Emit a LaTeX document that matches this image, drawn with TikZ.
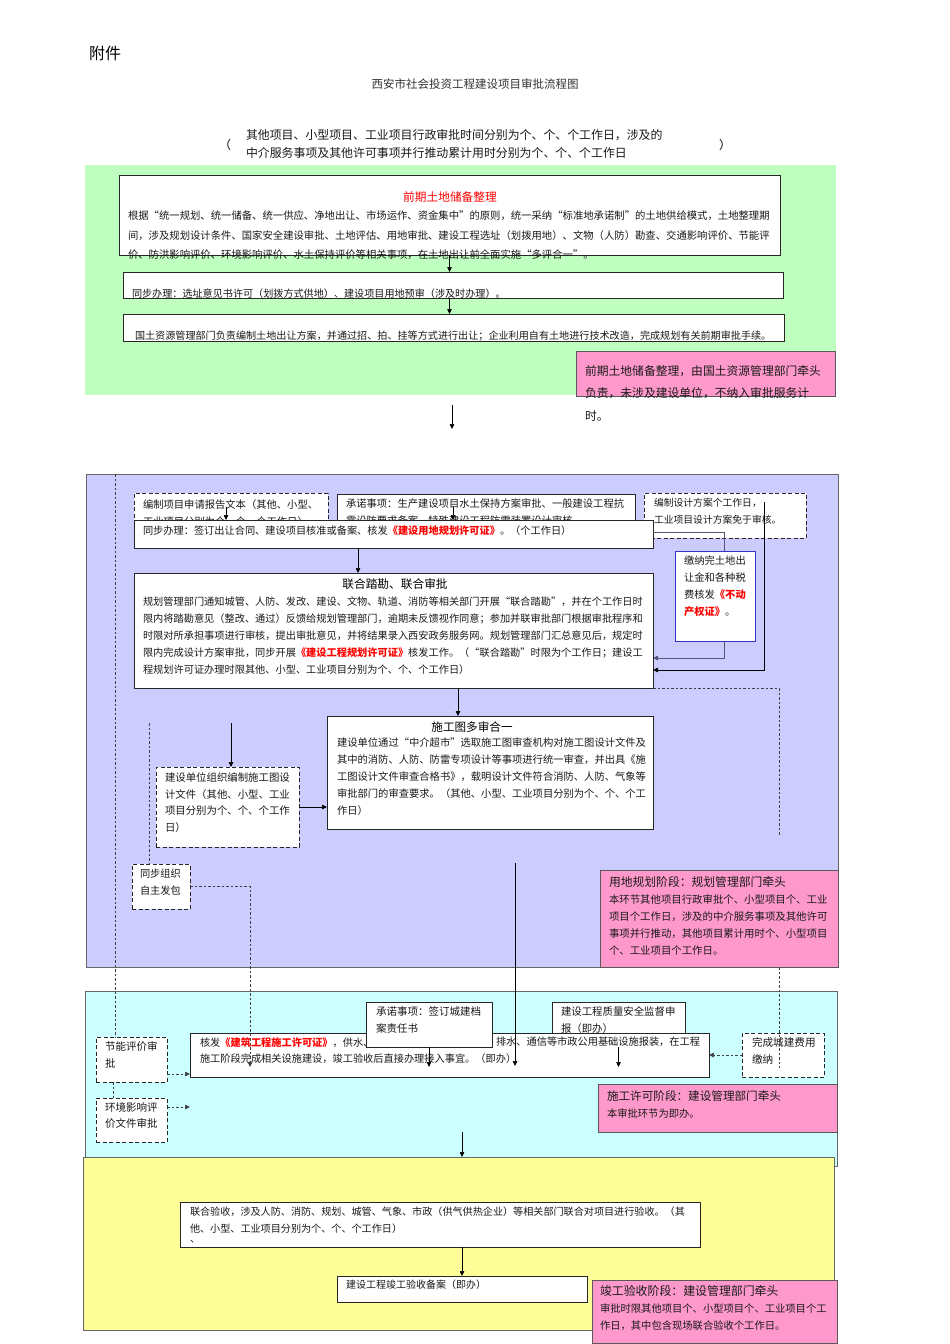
\documentclass[tikz,border=0pt]{standalone}
\usepackage{fontspec}
\setmainfont{Noto Sans CJK SC}
\usetikzlibrary{arrows.meta,calc}
\definecolor{gbg}{HTML}{BFFFBF}
\definecolor{pbg}{HTML}{CCCCFF}
\definecolor{cbg}{HTML}{CCFFFF}
\definecolor{ybg}{HTML}{FFFF99}
\definecolor{pk}{HTML}{FF99CC}
\definecolor{cln}{HTML}{555577}
\definecolor{ebd}{HTML}{3333CC}
\newcommand{\fz}[2]{\fontsize{#1}{#2}\selectfont}
\newcommand{\rb}[1]{{\color{red}\bfseries #1}}
\begin{document}
\begin{tikzpicture}[x=1pt,y=-1pt,
  region/.style={anchor=north west, inner sep=0, outer sep=0, draw=gray!80!black, line width=0.7pt},
  bx/.style={anchor=north west, inner sep=0, outer sep=0, draw=black!85, fill=white, line width=0.8pt},
  dbx/.style={bx, dash pattern=on 4pt off 2.5pt},
  pbx/.style={bx, fill=pk, draw=black!65},
  tx/.style={anchor=north west, inner sep=0, outer sep=0, align=left, text=black!90},
  arr/.style={-{Triangle[length=5pt,width=4.5pt]}, line width=0.7pt, black},
  dl/.style={line width=0.7pt, dash pattern=on 2.5pt off 2pt, black!75},
  darr/.style={dl, -{Triangle[length=5pt,width=4.5pt]}},
]
\useasboundingbox[fill=white] (0,0) rectangle (950,1344);

% ---------- header ----------
\node[anchor=west, inner sep=0, font=\fz{16}{16}] (fj) at (89,53) {附件};
\node[font=\fz{11.5}{12}, text=black!80] (title) at (475,84) {西安市社会投资工程建设项目审批流程图};
\node[font=\fz{12}{12}] (lp) at (225,145) {（};
\node[font=\fz{12}{12}] (rp) at (725,145) {）};
\node[tx, font=\fz{11.9}{18}] (sub) at (246,129.4) {其他项目、小型项目、工业项目行政审批时间分别为个、个、个工作日，涉及的\\中介服务事项及其他许可事项并行推动累计用时分别为个、个、个工作日};

% ---------- regions ----------
\node[region, draw=none, fill=gbg, minimum width=751pt, minimum height=230pt] (green) at (85,165) {};
\node[region, fill=pbg, minimum width=752pt, minimum height=493pt] (purple) at (86,474) {};
\node[region, fill=cbg, minimum width=752pt, minimum height=175pt] (cyan) at (85,991) {};
\node[region, fill=ybg, minimum width=751pt, minimum height=173pt] (yellow) at (83,1157) {};

% ---------- green section ----------
\node[bx, minimum width=661pt, minimum height=80pt] (g1) at (119,175) {};
\node[bx, minimum width=660pt, minimum height=26pt] (g2) at (123,272) {};
\node[bx, minimum width=661pt, minimum height=27pt] (g3) at (123,314) {};
\node[pbx, minimum width=259pt, minimum height=45pt] (p1) at (576,351) {};

\node[font=\fz{11.7}{12}, text=red] (g1t) at (450,197) {前期土地储备整理};
\node[tx, font=\fz{10.35}{19.5}] (g1b) at (128,211.1) {根据“统一规划、统一储备、统一供应、净地出让、市场运作、资金集中”的原则，统一采纳“标准地承诺制”的土地供给模式，土地整理期\\间，涉及规划设计条件、国家安全建设审批、土地评估、用地审批、建设工程选址（划拨用地）、文物（人防）勘查、交通影响评价、节能评\\价、防洪影响评价、环境影响评价、水土保持评价等相关事项，在土地出让前全面实施“多评合一”。};
\node[tx, font=\fz{10.1}{17}] (g2b) at (132,289.3) {同步办理：选址意见书许可（划拨方式供地）、建设项目用地预审（涉及时办理）。};
\node[tx, font=\fz{10.1}{17}] (g3b) at (135,331.3) {国土资源管理部门负责编制土地出让方案，并通过招、拍、挂等方式进行出让；企业利用自有土地进行技术改造，完成规划有关前期审批手续。};
\node[tx, font=\fz{11.8}{22.5}] (p1b) at (585,365.5) {前期土地储备整理，由国土资源管理部门牵头\\负责，未涉及建设单位，不纳入审批服务计\\时。};

\draw[arr] (g1.south) -- (g1.south |- g2.north);
\draw[arr] (g2.south -| g1.south) -- (g3.north -| g1.south);
\coordinate (ga) at (452,405);
\coordinate (gb) at (452,429);
\draw[arr] (ga) -- (gb);

% ---------- purple section ----------
\node[dbx, minimum width=194pt, minimum height=27pt] (A) at (134,493) {};
\node[tx, font=\fz{10.3}{17}] (At) at (143,499.2) {编制项目申请报告文本（其他、小型、\\工业项目分别为个、个、个工作日）};
\node[bx, minimum width=298pt, minimum height=26pt] (B) at (337,494) {};
\node[tx, font=\fz{10.3}{17}] (Bt) at (346,499.2) {承诺事项：生产建设项目水土保持方案审批、一般建设工程抗\\震设防要求备案、特殊建设工程防雷装置设计审核};
\node[dbx, minimum width=162pt, minimum height=45pt] (D) at (644,493) {};
\node[tx, font=\fz{9.8}{17}] (Dt) at (654,498.3) {编制设计方案个工作日，\\工业项目设计方案免于审核。};
\node[bx, minimum width=519pt, minimum height=28pt] (C) at (134,520) {};
\node[tx, font=\fz{10.2}{17}] (Ct) at (143,526.2) {同步办理：签订出让合同、建设项目核准或备案、核发\rb{《建设用地规划许可证》}。（个工作日）};
\node[bx, draw=ebd, minimum width=80pt, minimum height=90pt] (E) at (675,551) {};
\node[tx, font=\fz{10.3}{17}] (Et) at (684,556.2) {缴纳完土地出\\让金和各种税\\费核发\rb{《不动}\\\rb{产权证》}。};
\node[bx, minimum width=519pt, minimum height=115pt] (F) at (134,573) {};
\node[font=\fz{11.7}{12}] (Ft) at (395,584) {联合踏勘、联合审批};
\node[tx, font=\fz{10.2}{17}] (Fb) at (143,597.2) {规划管理部门通知城管、人防、发改、建设、文物、轨道、消防等相关部门开展“联合踏勘”，并在个工作日时\\限内将踏勘意见（整改、通过）反馈给规划管理部门，逾期未反馈视作同意；参加并联审批部门根据审批程序和\\时限对所承担事项进行审核，提出审批意见，并将结果录入西安政务服务网。规划管理部门汇总意见后，规定时\\限内完成设计方案审批，同步开展\rb{《建设工程规划许可证》}核发工作。（“联合踏勘”时限为个工作日；建设工\\程规划许可证办理时限其他、小型、工业项目分别为个、个、个工作日）};
\node[bx, minimum width=326pt, minimum height=113pt] (S) at (327,716) {};
\node[font=\fz{11.6}{12}] (St) at (472,727) {施工图多审合一};
\node[tx, font=\fz{10.3}{17}] (Sb) at (337,738.2) {建设单位通过“中介超市”选取施工图审查机构对施工图设计文件及\\其中的消防、人防、防雷专项设计等事项进行统一审查，并出具《施\\工图设计文件审查合格书》，载明设计文件符合消防、人防、气象等\\审批部门的审查要求。（其他、小型、工业项目分别为个、个、个工\\作日）};
\node[dbx, minimum width=143pt, minimum height=80pt] (G) at (156,767) {};
\node[tx, font=\fz{10.4}{16.5}] (Gt) at (165,773.1) {建设单位组织编制施工图设\\计文件（其他、小型、工业\\项目分别为个、个、个工作\\日）};
\node[dbx, minimum width=58pt, minimum height=45pt] (H) at (132,864) {};
\node[tx, font=\fz{10.2}{17}] (Ht) at (140,869.2) {同步组织\\自主发包};
\node[pbx, minimum width=238pt, minimum height=97pt] (p2) at (600,870) {};
\node[tx, font=\fz{11.8}{12}] (p2t) at (609,876.5) {用地规划阶段：规划管理部门牵头};
\node[tx, font=\fz{10.4}{16.8}] (p2b) at (609,895.1) {本环节其他项目行政审批个、小型项目个、工业\\项目个工作日，涉及的中介服务事项及其他许可\\事项并行推动，其他项目累计用时个、小型项目\\个、工业项目个工作日。};

% purple connectors
\draw[arr] ([xshift=-5pt]A.center) -- ([xshift=-5pt]A.center |- C.north);
\draw[arr] ([xshift=-33pt]B.center) -- ([xshift=-33pt]B.center |- C.north);
\draw[arr] ([xshift=-35.5pt]C.south) -- ([xshift=-35.5pt]C.south |- F.north);
\draw[cln, line width=0.8pt] ([yshift=2pt]C.east) -| ([xshift=9pt]E.north);
\draw[arr, cln, line width=0.8pt] ([xshift=9pt]E.south) |- ([yshift=-27.5pt]F.east);
\draw[arr] ([xshift=39pt,yshift=-9pt]D.north) |- ([yshift=-39.5pt]F.east);
\coordinate (dend1) at (779,836);
\draw[dl] (F.south east) -| (dend1);
\draw[arr] ([xshift=64.5pt]F.south) -- ([xshift=64.5pt]F.south |- S.north);
\coordinate (g0) at (231,723);
\draw[arr] (g0) -- (g0 |- G.north);
\draw[arr] (G.east) -- (G.east -| S.west);
\coordinate (h0) at (149,723);
\draw[dl] (h0) -- (h0 |- H.north);

% ---------- cyan section ----------
\node[dbx, minimum width=71pt, minimum height=45pt] (I) at (96,1037) {};
\node[tx, font=\fz{10.5}{17}] (It) at (105,1041.1) {节能评价审\\批};
\node[dbx, minimum width=71pt, minimum height=44pt] (J) at (96,1098) {};
\node[tx, font=\fz{10.5}{16}] (Jt) at (105,1103.1) {环境影响评\\价文件审批};
\node[bx, minimum width=133pt, minimum height=31pt] (M) at (552,1002) {};
\node[tx, font=\fz{10.4}{17}] (Mt) at (561,1007.1) {建设工程质量安全监督申\\报（即办）};
\node[bx, minimum width=519pt, minimum height=44pt] (K) at (190,1033) {};
\node[tx, font=\fz{10.2}{16}] (Kt) at (200,1037.2) {核发\rb{《建筑工程施工许可证》}，供水、\\施工阶段完成相关设施建设，竣工验收后直接办理接入事宜。（即办）};
\node[tx, font=\fz{10.2}{16}] (Kt2) at (496,1037.2) {排水、通信等市政公用基础设施报装，在工程};
\node[bx, minimum width=126pt, minimum height=45pt] (L) at (366,1002) {};
\node[tx, font=\fz{10.5}{17}] (Lt) at (376,1007.1) {承诺事项：签订城建档\\案责任书};
\node[dbx, minimum width=82pt, minimum height=44pt] (N) at (742,1033) {};
\node[tx, font=\fz{10.6}{17}] (Nt) at (752,1037) {完成城建费用\\缴纳};
\node[pbx, minimum width=239pt, minimum height=48pt] (p3) at (598,1084) {};
\node[tx, font=\fz{11.6}{12}] (p3t) at (607,1090.5) {施工许可阶段：建设管理部门牵头};
\node[tx, font=\fz{10.3}{12}] (p3b) at (607,1109.2) {本审批环节为即办。};

% cyan connectors
\coordinate (v0) at (115,474);
\draw[dl] (v0) -- (v0 |- I.north);
\draw[dl] ([xshift=-18.5pt]I.south) -- ([xshift=-18.5pt]I.south |- J.north);
\draw[darr] ([yshift=-14.5pt]I.east) -- ([yshift=-14.5pt]I.east -| K.west);
\draw[darr] ([yshift=13pt]J.east) -- ([yshift=13pt]J.east -| K.west);
\coordinate (k1) at (250,1067);
\draw[darr] (H.east) -| (k1);
\coordinate (s0) at (515,863);
\draw[arr] (s0) -- ([yshift=11pt]K.south -| s0);
\draw[arr] (L.south) -- ([yshift=10pt]K.south -| L.south);
\draw[arr] ([yshift=-14pt]M.south) -- ([yshift=10pt]K.south -| M.south);
\draw[darr] (N.west) -- (N.west -| K.east);
\draw[dl] (dend1 |- p2.south) -- ([yshift=9pt]N.south -| dend1);
\coordinate (y0) at (462,1132);
\draw[arr] (y0) -- (y0 |- yellow.north);

% ---------- yellow section ----------
\node[bx, minimum width=520pt, minimum height=45pt] (P) at (180,1202) {};
\node[tx, font=\fz{10.1}{17}] (Pt) at (190,1207.3) {联合验收，涉及人防、消防、规划、城管、气象、市政（供气供热企业）等相关部门联合对项目进行验收。（其\\他、小型、工业项目分别为个、个、个工作日）};
\node[tx, font=\fz{10.1}{12}] (Pt2) at (190,1240) {、};
\node[bx, minimum width=250pt, minimum height=26pt] (Q) at (337,1276) {};
\node[tx, font=\fz{10}{12}] (Qt) at (346,1280.3) {建设工程竣工验收备案（即办）};
\node[pbx, minimum width=245pt, minimum height=63pt] (p4) at (592,1280) {};
\node[tx, font=\fz{11.9}{12}] (p4t) at (600,1285.4) {竣工验收阶段：建设管理部门牵头};
\node[tx, font=\fz{10.3}{17}] (p4b) at (600,1304.2) {审批时限其他项目个、小型项目个、工业项目个工\\作日，其中包含现场联合验收个工作日。};
\draw[arr] ([xshift=22pt]P.south) -- ([xshift=22pt]P.south |- Q.north);
\end{tikzpicture}
\end{document}
